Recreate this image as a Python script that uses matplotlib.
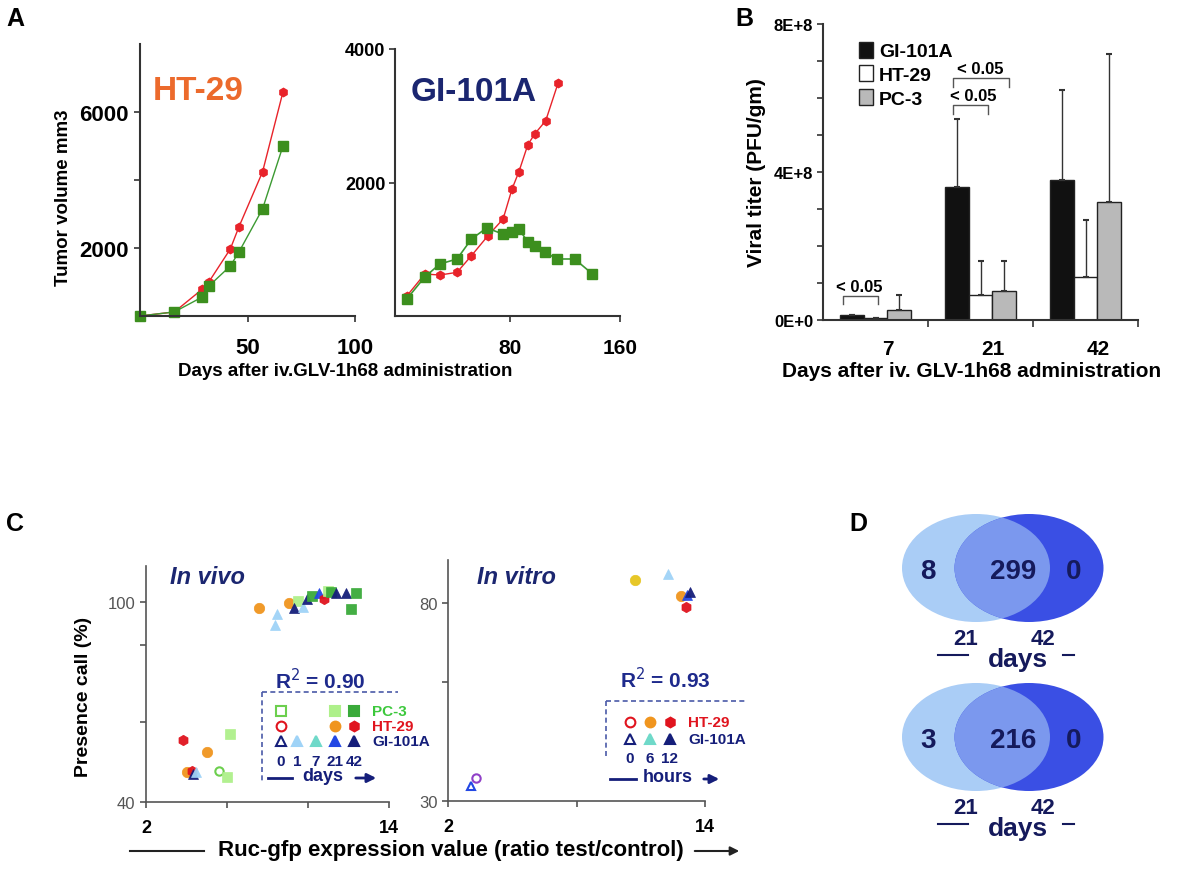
import numpy as np
import matplotlib
matplotlib.use('Agg')
import matplotlib.pyplot as plt
from matplotlib.lines import Line2D
from matplotlib.patches import Ellipse, Patch, FancyArrowPatch

plt.rcParams['font.family'] = ['Liberation Sans', 'DejaVu Sans']

W, H = 1200, 870

# ---------------- data ----------------
# panel A, HT-29 (days, tumor volume mm3)
ht29_days = [0, 16, 29, 32, 42, 46, 57, 66.5]
ht29_red = [0, 120, 790, 1000, 1970, 2620, 4240, 6590]
ht29_green = [0, 120, 560, 880, 1470, 1880, 3150, 5000]

# panel A, GI-101A
gi_days_red = [5, 18, 29, 41.5, 52, 64, 75, 81.5, 86.5, 93, 98, 106, 115]
gi_red = [300, 629, 614, 654, 904, 1203, 1453, 1903, 2162, 2567, 2727, 2926, 3491]
gi_days_green = [5, 18, 29, 41.5, 52, 63, 75, 81.5, 86.5, 93, 98, 105.5, 114, 127, 140]
gi_green = [255, 584, 779, 854, 1154, 1318, 1228, 1258, 1303, 1109, 1049, 959, 854, 854, 629]

# panel B, viral titer
b_days = ['7', '21', '42']
b_names = ['GI-101A', 'HT-29', 'PC-3']
b_means = [[0.14e8, 3.59e8, 3.79e8],
           [0.05e8, 0.68e8, 1.17e8],
           [0.28e8, 0.79e8, 3.18e8]]
b_errs = [[0.0, 1.84e8, 2.43e8],
          [0.0, 0.91e8, 1.54e8],
          [0.40e8, 0.80e8, 4.01e8]]
b_colors = ['#111111', '#ffffff', '#b9b9b9']

# panel C colours
col = {'pc_light': '#aef08a', 'pc': '#3aaa3a', 'pc_open': '#6ccf4e',
       'orange': '#f0951e', 'red': '#e0141e', 'gold': '#e6c41c',
       'lblue': '#9fd3f7', 'teal': '#6fd9c9', 'blue': '#2348e4',
       'navy': '#151e7a', 'purple': '#9040c8'}

# in vivo points
vivo_x = [3.81, 5.03, 6.15, 5.62, 5.98, 4.0, 4.25, 4.30, 4.47,
          7.59, 8.45, 8.37, 9.08, 9.53, 9.31, 9.77, 9.93, 10.22, 10.55,
          10.79, 11.0, 11.16, 11.36, 11.9, 12.37, 12.14]
vivo_y = [58.5, 54.9, 60.4, 49.4, 47.4, 48.9, 49.2, 48.4, 49.1,
          98.2, 96.4, 93.1, 99.7, 100.4, 98.2, 98.6, 100.9, 101.9, 102.7,
          100.9, 103.4, 102.9, 102.7, 102.7, 102.7, 97.9]
vivo_c = ['red', 'orange', 'pc_light', 'pc_open', 'pc_light', 'orange', 'red', 'navy', 'lblue',
          'orange', 'lblue', 'lblue', 'orange', 'pc_light', 'navy', 'lblue', 'navy', 'pc', 'blue',
          'red', 'pc_light', 'pc', 'navy', 'navy', 'pc', 'pc']
vivo_m = ['h', 'o', 's', 'o', 's', 'o', 'h', '^', '^',
          'o', '^', '^', 'o', 's', '^', '^', '^', 's', '^',
          'h', 's', 's', '^', '^', 's', 's']
vivo_open = [3]

# in vitro points
vitro_x = [10.73, 12.29, 12.87, 13.15, 13.3, 13.1, 3.31, 3.06]
vitro_y = [85.9, 87.3, 81.7, 82.0, 82.9, 78.9, 35.9, 33.9]
vitro_c = ['gold', 'lblue', 'orange', 'blue', 'navy', 'red', 'purple', 'blue']
vitro_m = ['o', '^', 'o', '^', '^', 'h', 'o', '^']
vitro_open = [6, 7]

# panel D venn counts (21 only, both, 42 only)
venn_counts = [(8, 299, 0), (3, 216, 0)]
venn_days = ['21', '42']


def fx(x):
    return x / W


def fy(y):
    return 1 - y / H


def px_rect(l, t, r, b):
    return [l / W, 1 - b / H, (r - l) / W, (b - t) / H]


def ftext(x, y, s, **kw):
    kw.setdefault('ha', 'center')
    kw.setdefault('va', 'center')
    fig.text(fx(x), fy(y), s, **kw)


def fline(x0, y0, x1, y1, **kw):
    fig.add_artist(Line2D([fx(x0), fx(x1)], [fy(y0), fy(y1)], transform=fig.transFigure, **kw))


def farrow(x0, y, x1, color, lw=2):
    fig.add_artist(FancyArrowPatch((fx(x0), fy(y)), (fx(x1), fy(y)), transform=fig.transFigure,
                                   arrowstyle='-|>', mutation_scale=13, color=color, lw=lw))


def fmark(x, y, m, face, edge, size=7):
    fig.add_artist(Line2D([fx(x)], [fy(y)], marker=m, ls='', markersize=size, mfc=face, mec=edge,
                          mew=1.5, transform=fig.transFigure))


def style_axes(ax, c='#333333', lw=1.5):
    for s in ['top', 'right']:
        ax.spines[s].set_visible(False)
    for s in ['left', 'bottom']:
        ax.spines[s].set_color(c)
        ax.spines[s].set_linewidth(lw)
    ax.tick_params(direction='out', length=4, width=1.2, color=c)


fig = plt.figure(figsize=(12, 8.7), dpi=100)

# ---------------- panel A ----------------
ax1 = fig.add_axes(px_rect(140, 45, 355, 317))
ax1.plot(ht29_days, ht29_red, '-', color='#e8232a', lw=1, marker='h', ms=6, mfc='#e8232a', mec='#e8232a', clip_on=False)
ax1.plot(ht29_days, ht29_green, '-', color='#3c9a32', lw=1, marker='s', ms=6.5, mfc='#3c8f1e', mec='#3c8f1e', clip_on=False)
ax1.set_xlim(0, 100)
ax1.set_ylim(0, 8000)
ax1.set_yticks([2000, 4000, 6000])
ax1.set_yticklabels(['2000', '', '6000'])
ax1.set_xticks([50, 100])
ax1.set_xticklabels(['50', '100'])
style_axes(ax1)
ax1.tick_params(axis='y', labelsize=16, pad=4)
ax1.tick_params(axis='x', labelsize=16, pad=11)
for t in ax1.get_xticklabels() + ax1.get_yticklabels():
    t.set_fontweight('bold')
ftext(63, 198, 'Tumor volume mm3', fontsize=13.5, fontweight='bold', rotation=90)
ax1.text(0.06, 0.83, 'HT-29', transform=ax1.transAxes, fontsize=24, fontweight='bold',
         color='#ec6a2c', va='center')

ax2 = fig.add_axes(px_rect(395, 50, 620, 317))
ax2.plot(gi_days_red, gi_red, '-', color='#e8232a', lw=1, marker='h', ms=6, mfc='#e8232a', mec='#e8232a', clip_on=False)
ax2.plot(gi_days_green, gi_green, '-', color='#3c9a32', lw=1.2, marker='s', ms=6.5, mfc='#3c8f1e', mec='#3c8f1e', clip_on=False)
ax2.set_xlim(-3.6, 160)
ax2.set_ylim(0, 4000)
ax2.set_yticks([2000, 4000])
ax2.set_xticks([80, 160])
style_axes(ax2)
ax2.tick_params(axis='y', labelsize=13, pad=3)
ax2.tick_params(axis='x', labelsize=15, pad=12)
for t in ax2.get_xticklabels() + ax2.get_yticklabels():
    t.set_fontweight('bold')
ax2.text(0.07, 0.84, 'GI-101A', transform=ax2.transAxes, fontsize=24, fontweight='bold',
         color='#1b2670', va='center')

ftext(345, 372, 'Days after iv.GLV-1h68 administration', fontsize=13.5, fontweight='bold')

# ---------------- panel B ----------------
axb = fig.add_axes(px_rect(823, 25, 1138, 321))
xs = np.arange(len(b_days))
bw = 0.224
handles = []
for k in range(3):
    xpos = xs + (k - 1) * bw
    axb.bar(xpos, b_means[k], bw, color=b_colors[k], edgecolor='#222222', lw=1)
    axb.errorbar(xpos, b_means[k], yerr=[np.zeros(3), b_errs[k]], fmt='none',
                 ecolor='#333333', elinewidth=1, capsize=2.5, capthick=1.5)
    handles.append(Patch(facecolor=b_colors[k], edgecolor='#222222', label=b_names[k]))
axb.set_xlim(-0.5, 2.5)
axb.set_ylim(0, 8e8)
axb.set_yticks(np.arange(0, 9e8, 1e8))
axb.set_yticklabels(['0E+0', '', '', '', '4E+8', '', '', '', '8E+8'])
axb.set_xticks([0.5, 1.5, 2.5])
axb.set_xticklabels([])
axb.set_xticks(xs + 0.12, minor=True)
axb.set_xticklabels(b_days, minor=True)
style_axes(axb)
axb.tick_params(axis='y', labelsize=12, pad=3)
axb.tick_params(axis='x', which='major', length=5)
axb.tick_params(axis='x', which='minor', length=0, labelsize=15, pad=14)
for t in axb.get_xticklabels(minor=True) + axb.get_yticklabels():
    t.set_fontweight('bold')
axb.set_ylabel('Viral titer (PFU/gm)', fontsize=15, fontweight='bold', labelpad=6)
leg = axb.legend(handles=handles, loc='upper left', bbox_to_anchor=(0.06, 1.0), frameon=False,
                 handlelength=0.7, handleheight=0.9, handletextpad=0.3, labelspacing=0.25,
                 prop={'size': 14, 'weight': 'bold'})

# significance brackets: (x_left, x_right, y, text_x)
brackets = [(-0.31, 0.02, 0.65e8, -0.15), (0.74, 1.07, 5.81e8, 0.93), (0.74, 1.27, 6.53e8, 1.0)]
for xl, xr, yb, xt in brackets:
    axb.plot([xl, xl, xr, xr], [yb - 0.23e8, yb, yb, yb - 0.23e8], color='#555555', lw=1)
    axb.text(xt, yb + 0.06e8, '< 0.05', ha='center', va='bottom', fontsize=12, fontweight='bold')

ftext(972, 372, 'Days after iv. GLV-1h68 administration', fontsize=15, fontweight='bold')

# ---------------- panel C ----------------
def scatter_points(ax, xv, yv, cv, mv, open_idx):
    for i in range(len(xv)):
        c = col[cv[i]]
        if i in open_idx:
            ax.plot(xv[i], yv[i], marker=mv[i], ls='', ms=6, mfc='white', mec=c, mew=1.5, clip_on=False)
        else:
            ax.plot(xv[i], yv[i], marker=mv[i], ls='', ms=7.5, mfc=c, mec=c, mew=0.5, alpha=0.95, clip_on=False)


axc1 = fig.add_axes(px_rect(146, 567, 389, 803))
scatter_points(axc1, vivo_x, vivo_y, vivo_c, vivo_m, vivo_open)
axc1.set_xlim(2, 14)
axc1.set_ylim(40, 110.8)
axc1.set_xticks([2, 6, 10, 14])
axc1.set_xticklabels(['2', '', '', '14'])
axc1.set_yticks([40, 64, 87, 100])
axc1.set_yticklabels(['40', '', '', '100'])
style_axes(axc1, c='#555555', lw=1.2)
axc1.tick_params(axis='y', labelsize=12, labelcolor='#555555')
axc1.tick_params(axis='x', labelsize=13, pad=8)
for t in axc1.get_xticklabels():
    t.set_fontweight('bold')
ftext(83, 697, 'Presence call (%)', fontsize=14, fontweight='bold', rotation=90)
ftext(170, 578, 'In vivo', ha='left', fontsize=17, fontweight='bold', style='italic', color='#1b2670')

axc2 = fig.add_axes(px_rect(448, 561, 705, 802))
scatter_points(axc2, vitro_x, vitro_y, vitro_c, vitro_m, vitro_open)
axc2.set_xlim(2, 14)
axc2.set_ylim(30, 90.9)
axc2.set_xticks([2, 8, 14])
axc2.set_xticklabels(['2', '', '14'])
axc2.set_yticks([30, 60, 80])
axc2.set_yticklabels(['30', '', '80'])
style_axes(axc2, c='#555555', lw=1.2)
axc2.tick_params(axis='y', labelsize=12, labelcolor='#555555')
axc2.tick_params(axis='x', labelsize=13, pad=8)
for t in axc2.get_xticklabels():
    t.set_fontweight('bold')
ftext(477, 578, 'In vitro', ha='left', fontsize=17, fontweight='bold', style='italic', color='#1b2670')

# R^2 labels
ftext(320, 681, 'R$^2$ = 0.90', fontsize=15, fontweight='bold', color='#1e2a8c')
ftext(665, 680, 'R$^2$ = 0.93', fontsize=15, fontweight='bold', color='#1e2a8c')

# dashed legend frames
dash_c = '#4a5aa8'
fline(262, 693, 398, 693, color=dash_c, lw=1.2, ls=(0, (3, 2)))
fline(262, 693, 262, 783, color=dash_c, lw=1.2, ls=(0, (3, 2)))
fline(606, 702, 745, 702, color=dash_c, lw=1.2, ls=(0, (3, 2)))
fline(606, 702, 606, 757, color=dash_c, lw=1.2, ls=(0, (3, 2)))

# in vivo legend key
vivo_cols = [281, 297, 316, 335, 354]
vivo_rows = [
    ('PC-3', '#3cc83c', 712, [(0, 's', 'white', col['pc_open']), (3, 's', col['pc_light'], col['pc_light']),
                             (4, 's', col['pc'], col['pc'])]),
    ('HT-29', '#e0141e', 727, [(0, 'o', 'white', col['red']), (3, 'o', col['orange'], col['orange']),
                              (4, 'h', col['red'], col['red'])]),
    ('GI-101A', '#151e7a', 742, [(0, '^', 'white', col['navy']), (1, '^', col['lblue'], col['lblue']),
                                (2, '^', col['teal'], col['teal']), (3, '^', col['blue'], col['blue']),
                                (4, '^', col['navy'], col['navy'])]),
]
for name, tc, yy, marks in vivo_rows:
    for ci, m, fc, ec in marks:
        fmark(vivo_cols[ci], yy, m, fc, ec)
    ftext(372, yy, name, ha='left', fontsize=11, fontweight='bold', color=tc)
for xx, lab in zip(vivo_cols, ['0', '1', '7', '21', '42']):
    ftext(xx, 762, lab, fontsize=11, fontweight='bold', color='#151e7a')
fline(268, 779, 292, 779, color='#151e7a', lw=2)
ftext(323, 777, 'days', fontsize=13, fontweight='bold', color='#151e7a')
farrow(353, 779, 379, '#151e7a')

# in vitro legend key
vitro_cols = [630, 650, 670]
vitro_rows = [
    ('HT-29', '#e0141e', 723, [(0, 'o', 'white', col['red']), (1, 'o', col['orange'], col['orange']),
                              (2, 'h', col['red'], col['red'])]),
    ('GI-101A', '#151e7a', 740, [(0, '^', 'white', col['navy']), (1, '^', col['teal'], col['teal']),
                                (2, '^', col['navy'], col['navy'])]),
]
for name, tc, yy, marks in vitro_rows:
    for ci, m, fc, ec in marks:
        fmark(vitro_cols[ci], yy, m, fc, ec)
    ftext(688, yy, name, ha='left', fontsize=11, fontweight='bold', color=tc)
for xx, lab in zip(vitro_cols, ['0', '6', '12']):
    ftext(xx, 759, lab, fontsize=11, fontweight='bold', color='#151e7a')
fline(610, 780, 636, 780, color='#151e7a', lw=2)
ftext(668, 778, 'hours', fontsize=13, fontweight='bold', color='#151e7a')
farrow(701, 780, 722, '#151e7a')

# panel C x label with side lines
ftext(451, 851, 'Ruc-gfp expression value (ratio test/control)', fontsize=16, fontweight='bold')
fline(130, 852, 204, 852, color='#222222', lw=1.5)
farrow(692, 852, 742, '#222222', lw=1.5)

# ---------------- panel D ----------------
axd = fig.add_axes(px_rect(880, 505, 1130, 860))
axd.set_xlim(880, 1130)
axd.set_ylim(860, 505)
axd.axis('off')
light, mid, dark = '#aacdf6', '#7b98ee', '#3a4fe4'
for k, (only21, both, only42) in enumerate(venn_counts):
    cy = 569 + k * 169
    left = Ellipse((976, cy), 148, 108, facecolor=light, edgecolor='none')
    right = Ellipse((1029, cy), 149, 108, facecolor=dark, edgecolor='none')
    axd.add_patch(left)
    axd.add_patch(right)
    over = Ellipse((976, cy), 148, 108, facecolor=mid, edgecolor='none')
    axd.add_patch(over)
    over.set_clip_path(right)
    for xx, v in zip([928, 1013, 1074], [only21, both, only42]):
        axd.text(xx, cy + 3, str(v), ha='center', va='center', fontsize=20, fontweight='bold', color='#151a5c')
    for xx, lab in zip([966, 1043], venn_days):
        axd.text(xx, cy + 71, lab, ha='center', va='center', fontsize=16, fontweight='bold', color='#151a5c')
    axd.text(1018, cy + 91, 'days', ha='center', va='center', fontsize=19, fontweight='bold', color='#151a5c')
    axd.plot([938, 968], [cy + 87, cy + 87], color='#151a5c', lw=1.5)
    axd.plot([1063, 1074], [cy + 87, cy + 87], color='#151a5c', lw=1.5)

# panel letters
for lab, (xx, yy) in zip('ABCD', [(15, 19), (744, 19), (15, 524), (858, 524)]):
    ftext(xx, yy, lab, fontsize=18, fontweight='bold')

fig.savefig('out.png', dpi=100)
